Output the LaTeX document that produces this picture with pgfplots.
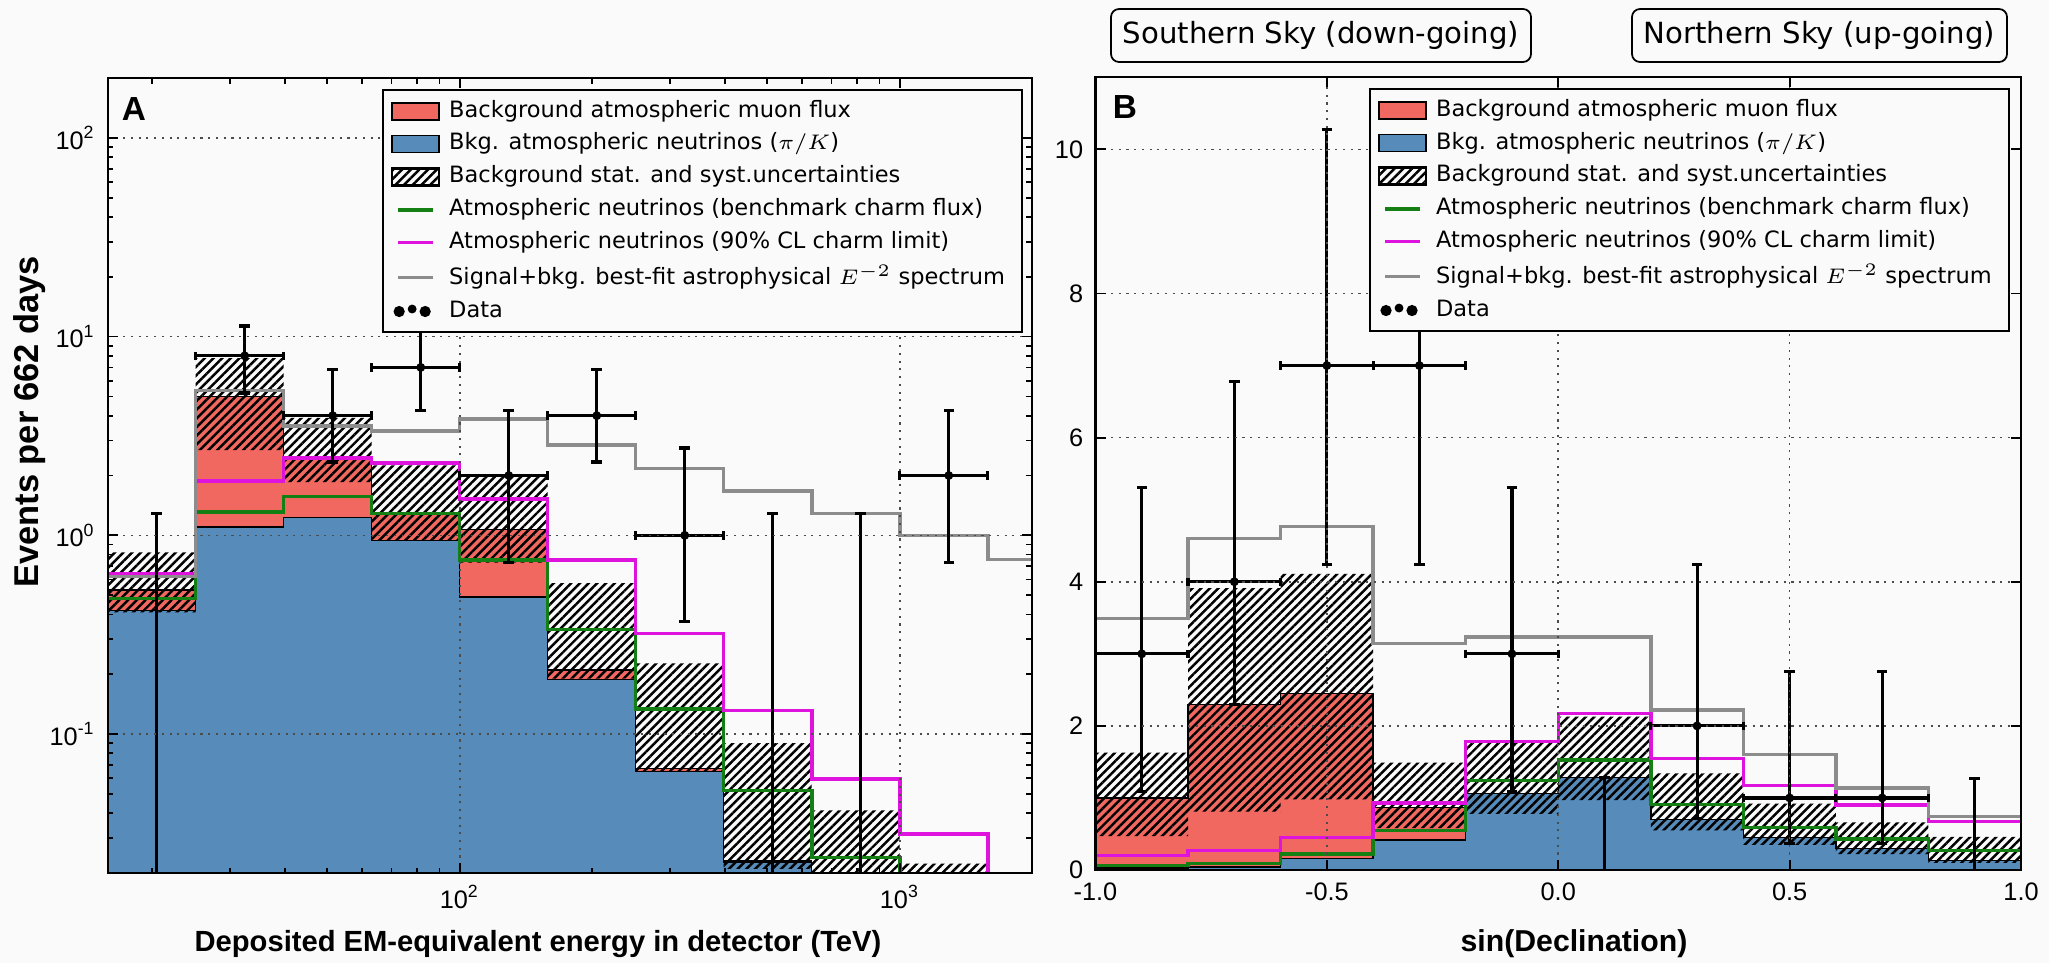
\documentclass[border=0pt]{standalone}
\usepackage{fontspec}
\setmainfont{Liberation Sans}
\newfontfamily\legfont{DejaVu Sans}
\usepackage{pgfplots}
\pgfplotsset{compat=1.18}
\usetikzlibrary{patterns.meta}

\definecolor{bg}{RGB}{250,250,250}
\definecolor{muon}{RGB}{240,104,96}
\definecolor{conv}{RGB}{86,139,186}
\definecolor{bench}{RGB}{20,128,20}
\definecolor{limit}{RGB}{222,20,222}
\definecolor{sig}{RGB}{140,140,140}

\tikzset{hatch/.style={pattern={Lines[angle=45,distance=1.75pt,line width=0.7pt]}, pattern color=black}}

\pgfplotsset{
  panel/.style={scale only axis, axis on top, axis background/.style={fill=bg},
    tick align=inside, major tick length=1.0mm, minor tick length=0.55mm,
    every tick/.style={black, line width=0.5pt}, axis line style={line width=0.6pt},
    grid=major, major grid style={black!70, line width=0.45pt, dash pattern=on 0.6pt off 1.6pt},
    tick label style={font=\fontsize{7.2}{8.5}\selectfont},
    legend cell align=left,
    legend style={draw=black, line width=0.6pt, fill=bg, anchor=north east,
      font=\legfont\fontsize{6.4}{7.6}\selectfont, row sep=0.45mm,
      nodes={inner ysep=0.3mm, inner xsep=0.9mm},
      inner xsep=0.8mm, inner ysep=0.7mm}},
  % legend pictures use explicit units, so that they are not read as axis coordinates
  boxleg/.style={legend image code/.code={\draw[##1] (0mm,-0.85mm) rectangle (4.7mm,0.85mm);}},
  lineleg/.style={legend image code/.code={\path[draw=none, fill=none] (0mm,0mm) -- (4.7mm,0mm);
      \draw[##1] (0.6mm,0mm) -- (4.1mm,0mm);}},
  dotleg/.style={legend image code/.code={\path[draw=none, fill=none] (0mm,0mm) -- (4.7mm,0mm);
      \fill[black] (0.7mm,0mm) circle (0.45mm); \fill[black] (2mm,0.25mm) circle (0.33mm);
      \fill[black] (3.3mm,0mm) circle (0.45mm);}},
  stepline/.style={const plot, line width=1pt, forget plot},
  area/.style={fill=#1, draw=black, line width=0.4pt, forget plot},
  ebar/.style={black, line width=0.9pt, forget plot},
  vcap/.style={black, only marks, mark=-, mark size=1.5pt, mark options={line width=0.9pt}, forget plot},
  hcap/.style={black, only marks, mark=|, mark size=1.2pt, mark options={line width=0.9pt}, forget plot},
  dots/.style={black, only marks, mark=*, mark size=1.05pt, forget plot},
}

\newcommand{\legendentries}{%
  \addlegendimage{boxleg, fill=muon, draw=black, line width=0.5pt}
  \addlegendentry{Background atmospheric muon flux}
  \addlegendimage{boxleg, fill=conv, draw=black, line width=0.5pt}
  \addlegendentry{Bkg. atmospheric neutrinos ($\pi/K$)}
  \addlegendimage{boxleg, hatch, draw=none}
  \addlegendentry{Background stat. and syst.uncertainties}
  \addlegendimage{lineleg, bench, line width=1pt}
  \addlegendentry{Atmospheric neutrinos (benchmark charm flux)}
  \addlegendimage{lineleg, limit, line width=1pt}
  \addlegendentry{Atmospheric neutrinos (90\% CL charm limit)}
  \addlegendimage{lineleg, sig, line width=1pt}
  \addlegendentry{Signal+bkg. best-fit astrophysical $E^{-2}$ spectrum}
  \addlegendimage{dotleg}
  \addlegendentry{Data}
}

\begin{document}
\begin{tikzpicture}
\fill[bg] (0,0) rectangle (204.9mm,96.3mm);
\path[use as bounding box] (0,0) rectangle (204.9mm,96.3mm);

% ---------------- panel A: energy ----------------
\begin{axis}[panel, at={(10.77mm,9.0mm)}, anchor=south west,
  width=92.4mm, height=79.5mm,
  xmode=log, ymode=log,
  xmin=15.849, xmax=1995.3, ymin=0.02, ymax=200,
  xtick={100,1000}, xticklabels={{10\textsuperscript{2}},{10\textsuperscript{3}}},
  minor xtick={20,30,40,50,60,70,80,90,200,300,400,500,600,700,800,900},
  ytick={0.1,1,10,100},
  yticklabels={{10\textsuperscript{-1}},{10\textsuperscript{0}},{10\textsuperscript{1}},{10\textsuperscript{2}}},
  minor ytick={0.03,0.04,0.05,0.06,0.07,0.08,0.09,0.2,0.3,0.4,0.5,0.6,0.7,0.8,0.9,2,3,4,5,6,7,8,9,20,30,40,50,60,70,80,90},
  legend style={at={(0.9906,0.9862)}}]

% total background (muon flux stacked on atmospheric neutrinos)
\addplot[area=muon] coordinates {
(15.849,0.01) (15.849,0.53) (25.119,0.53) (25.119,5.0) (39.811,5.0) (39.811,2.48)
(63.096,2.48) (63.096,1.29) (100,1.29) (100,1.07) (158.49,1.07) (158.49,0.21)
(251.19,0.21) (251.19,0.067) (398.11,0.067) (398.11,0.023) (630.96,0.023) (630.96,0.01)};
% atmospheric neutrinos (pi/K)
\addplot[area=conv] coordinates {
(15.849,0.01) (15.849,0.42) (25.119,0.42) (25.119,1.10) (39.811,1.10) (39.811,1.23)
(63.096,1.23) (63.096,0.94) (100,0.94) (100,0.49) (158.49,0.49) (158.49,0.188)
(251.19,0.188) (251.19,0.065) (398.11,0.065) (398.11,0.0227) (630.96,0.0227) (630.96,0.01)};

% uncertainty band: upper edge left to right, lower edge back
\addplot[hatch, draw=none, forget plot] coordinates {
(15.849,0.82) (25.119,0.82) (25.119,7.8) (39.811,7.8) (39.811,3.9) (63.096,3.9)
(63.096,2.25) (100,2.25) (100,1.98) (158.49,1.98) (158.49,0.575) (251.19,0.575)
(251.19,0.227) (398.11,0.227) (398.11,0.090) (630.96,0.090) (630.96,0.0413) (1000,0.0413)
(1000,0.0223) (1584.9,0.0223) (1584.9,0.01) (630.96,0.01)
(630.96,0.021) (398.11,0.021) (398.11,0.065) (251.19,0.065) (251.19,0.19) (158.49,0.19)
(158.49,0.73) (100,0.73) (100,0.95) (63.096,0.95) (63.096,1.85) (39.811,1.85)
(39.811,2.68) (25.119,2.68) (25.119,0.41) (15.849,0.41)};

% model lines
\addplot[stepline, bench] coordinates {
(15.849,0.48) (25.119,1.31) (39.811,1.57) (63.096,1.29) (100,0.75) (158.49,0.336)
(251.19,0.134) (398.11,0.052) (630.96,0.024) (1000,0.01)};
\addplot[stepline, limit] coordinates {
(15.849,0.64) (25.119,1.88) (39.811,2.45) (63.096,2.31) (100,1.52) (158.49,0.75)
(251.19,0.32) (398.11,0.1316) (630.96,0.0596) (1000,0.0315) (1584.9,0.01)};
\addplot[stepline, sig] coordinates {
(15.849,0.62) (25.119,5.37) (39.811,3.55) (63.096,3.35) (100,3.84) (158.49,2.84)
(251.19,2.17) (398.11,1.67) (630.96,1.29) (1000,1.0) (1584.9,0.755) (1995.3,0.755)};

% data: vertical error bars
\addplot[ebar] coordinates {(20.48,0.01) (20.48,1.29)};
\addplot[ebar] coordinates {(32.46,5.2) (32.46,11.3)};
\addplot[ebar] coordinates {(51.45,2.34) (51.45,6.8)};
\addplot[ebar] coordinates {(81.55,4.25) (81.55,10.6)};
\addplot[ebar] coordinates {(129.25,0.73) (129.25,4.25)};
\addplot[ebar] coordinates {(204.84,2.34) (204.84,6.8)};
\addplot[ebar] coordinates {(324.65,0.37) (324.65,2.75)};
\addplot[ebar] coordinates {(514.53,0.01) (514.53,1.29)};
\addplot[ebar] coordinates {(815.48,0.01) (815.48,1.29)};
\addplot[ebar] coordinates {(1292.5,0.73) (1292.5,4.25)};
\addplot[vcap] coordinates {
(20.48,1.29) (32.46,5.2) (32.46,11.3) (51.45,2.34) (51.45,6.8) (81.55,4.25)
(129.25,0.73) (129.25,4.25) (204.84,2.34) (204.84,6.8) (324.65,0.37) (324.65,2.75)
(514.53,1.29) (815.48,1.29) (1292.5,0.73) (1292.5,4.25)};
% bin-width bars
\addplot[ebar] coordinates {(25.119,8) (39.811,8)};
\addplot[ebar] coordinates {(39.811,4) (63.096,4)};
\addplot[ebar] coordinates {(63.096,7) (100,7)};
\addplot[ebar] coordinates {(100,2) (158.49,2)};
\addplot[ebar] coordinates {(158.49,4) (251.19,4)};
\addplot[ebar] coordinates {(251.19,1) (398.11,1)};
\addplot[ebar] coordinates {(1000,2) (1584.9,2)};
\addplot[hcap] coordinates {
(25.119,8) (39.811,8) (39.811,4) (63.096,4) (63.096,7) (100,7) (100,2) (158.49,2)
(158.49,4) (251.19,4) (251.19,1) (398.11,1) (1000,2) (1584.9,2)};
\addplot[dots] coordinates {
(32.46,8) (51.45,4) (81.55,7) (129.25,2) (204.84,4) (324.65,1) (1292.5,2)};

\legendentries
\end{axis}

% ---------------- panel B: declination ----------------
\begin{axis}[panel, at={(109.55mm,9.3mm)}, anchor=south west,
  width=92.55mm, height=79.27mm,
  xmin=-1, xmax=1, ymin=0, ymax=11,
  xtick={-1,-0.5,0,0.5,1}, xticklabels={-1.0,-0.5,0.0,0.5,1.0},
  ytick={0,2,4,6,8,10}, yticklabels={0,2,4,6,8,10},
  legend style={at={(0.988,0.9865)}}]

\addplot[area=muon] coordinates {
(-1,0) (-1,1.0) (-0.8,1.0) (-0.8,2.30) (-0.6,2.30) (-0.6,2.45) (-0.4,2.45) (-0.4,0.87)
(-0.2,0.87) (-0.2,1.06) (0,1.06) (0,1.28) (0.2,1.28) (0.2,0.70) (0.4,0.70) (0.4,0.45)
(0.6,0.45) (0.6,0.30) (0.8,0.30) (0.8,0.13) (1,0.13) (1,0)};
\addplot[area=conv] coordinates {
(-1,0) (-1,0.03) (-0.8,0.03) (-0.8,0.04) (-0.6,0.04) (-0.6,0.16) (-0.4,0.16) (-0.4,0.415)
(-0.2,0.415) (-0.2,1.06) (0,1.06) (0,1.28) (0.2,1.28) (0.2,0.70) (0.4,0.70) (0.4,0.45)
(0.6,0.45) (0.6,0.30) (0.8,0.30) (0.8,0.13) (1,0.13) (1,0)};

\addplot[hatch, draw=none, forget plot] coordinates {
(-1,1.63) (-0.8,1.63) (-0.8,3.91) (-0.6,3.91) (-0.6,4.11) (-0.4,4.11) (-0.4,1.49)
(-0.2,1.49) (-0.2,1.78) (0,1.78) (0,2.13) (0.2,2.13) (0.2,1.34) (0.4,1.34) (0.4,0.92)
(0.6,0.92) (0.6,0.66) (0.8,0.66) (0.8,0.46) (1,0.46)
(1,0.10) (0.8,0.10) (0.8,0.22) (0.6,0.22) (0.6,0.35) (0.4,0.35) (0.4,0.55) (0.2,0.55)
(0.2,0.97) (0,0.97) (0,0.78) (-0.2,0.78) (-0.2,0.58) (-0.4,0.58) (-0.4,0.98) (-0.6,0.98)
(-0.6,0.81) (-0.8,0.81) (-0.8,0.47) (-1,0.47)};

\addplot[stepline, bench] coordinates {
(-1,0.06) (-0.8,0.09) (-0.6,0.22) (-0.4,0.55) (-0.2,1.24) (0,1.53)
(0.2,0.91) (0.4,0.59) (0.6,0.43) (0.8,0.27) (1,0.27)};
\addplot[stepline, limit] coordinates {
(-1,0.20) (-0.8,0.27) (-0.6,0.45) (-0.4,0.93) (-0.2,1.78) (0,2.17)
(0.2,1.55) (0.4,1.17) (0.6,0.90) (0.8,0.67) (1,0.67)};
\addplot[stepline, sig] coordinates {
(-1,3.49) (-0.8,4.60) (-0.6,4.77) (-0.4,3.14) (-0.2,3.23) (0,3.23)
(0.2,2.22) (0.4,1.60) (0.6,1.14) (0.8,0.74) (1,0.74)};

\addplot[ebar] coordinates {(-0.9,1.09) (-0.9,5.31)};
\addplot[ebar] coordinates {(-0.7,2.30) (-0.7,6.78)};
\addplot[ebar] coordinates {(-0.5,4.24) (-0.5,10.28)};
\addplot[ebar] coordinates {(-0.3,4.24) (-0.3,10.28)};
\addplot[ebar] coordinates {(-0.1,1.09) (-0.1,5.31)};
\addplot[ebar] coordinates {(0.1,0) (0.1,1.28)};
\addplot[ebar] coordinates {(0.3,0.72) (0.3,4.24)};
\addplot[ebar] coordinates {(0.5,0.37) (0.5,2.75)};
\addplot[ebar] coordinates {(0.7,0.37) (0.7,2.75)};
\addplot[ebar] coordinates {(0.9,0) (0.9,1.27)};
\addplot[vcap] coordinates {
(-0.9,1.09) (-0.9,5.31) (-0.7,2.30) (-0.7,6.78) (-0.5,4.24) (-0.5,10.28) (-0.3,4.24)
(-0.1,1.09) (-0.1,5.31) (0.1,1.28) (0.3,0.72) (0.3,4.24) (0.5,0.37) (0.5,2.75)
(0.7,0.37) (0.7,2.75) (0.9,1.27)};
\addplot[ebar] coordinates {(-1,3) (-0.8,3)};
\addplot[ebar] coordinates {(-0.8,4) (-0.6,4)};
\addplot[ebar] coordinates {(-0.6,7) (-0.4,7)};
\addplot[ebar] coordinates {(-0.4,7) (-0.2,7)};
\addplot[ebar] coordinates {(-0.2,3) (0,3)};
\addplot[ebar] coordinates {(0.2,2) (0.4,2)};
\addplot[ebar] coordinates {(0.4,1) (0.6,1)};
\addplot[ebar] coordinates {(0.6,1) (0.8,1)};
\addplot[hcap] coordinates {
(-1,3) (-0.8,3) (-0.8,4) (-0.6,4) (-0.6,7) (-0.4,7) (-0.2,7) (-0.2,3) (0,3)
(0.2,2) (0.4,2) (0.6,1) (0.8,1) (0.4,1) (0.6,1)};
\addplot[dots] coordinates {
(-0.9,3) (-0.7,4) (-0.5,7) (-0.3,7) (-0.1,3) (0.3,2) (0.5,1) (0.7,1)};

\legendentries
\end{axis}

% labels
\node[font=\bfseries\fontsize{9.5}{11}\selectfont] at (13.4mm,85.4mm) {A};
\node[font=\bfseries\fontsize{9.5}{11}\selectfont] at (112.5mm,85.55mm) {B};
\node[font=\bfseries\fontsize{8.3}{10}\selectfont] at (53.8mm,1.9mm) {Deposited EM-equivalent energy in detector (TeV)};
\node[font=\bfseries\fontsize{8.6}{10}\selectfont] at (157.4mm,1.9mm) {sin(Declination)};
\node[rotate=90, font=\bfseries\fontsize{9.8}{11}\selectfont] at (3.0mm,54.1mm) {Events per 662 days};
\node[draw=black, line width=0.5pt, rounded corners=0.8mm, fill=bg, minimum width=42mm, minimum height=5.3mm,
  inner sep=0pt, font=\legfont\fontsize{8.3}{10}\selectfont] at (132.1mm,92.75mm) {Southern Sky (down-going)};
\node[draw=black, line width=0.5pt, rounded corners=0.8mm, fill=bg, minimum width=37.5mm, minimum height=5.3mm,
  inner sep=0pt, font=\legfont\fontsize{8.3}{10}\selectfont] at (181.95mm,92.75mm) {Northern Sky (up-going)};
\end{tikzpicture}
\end{document}
